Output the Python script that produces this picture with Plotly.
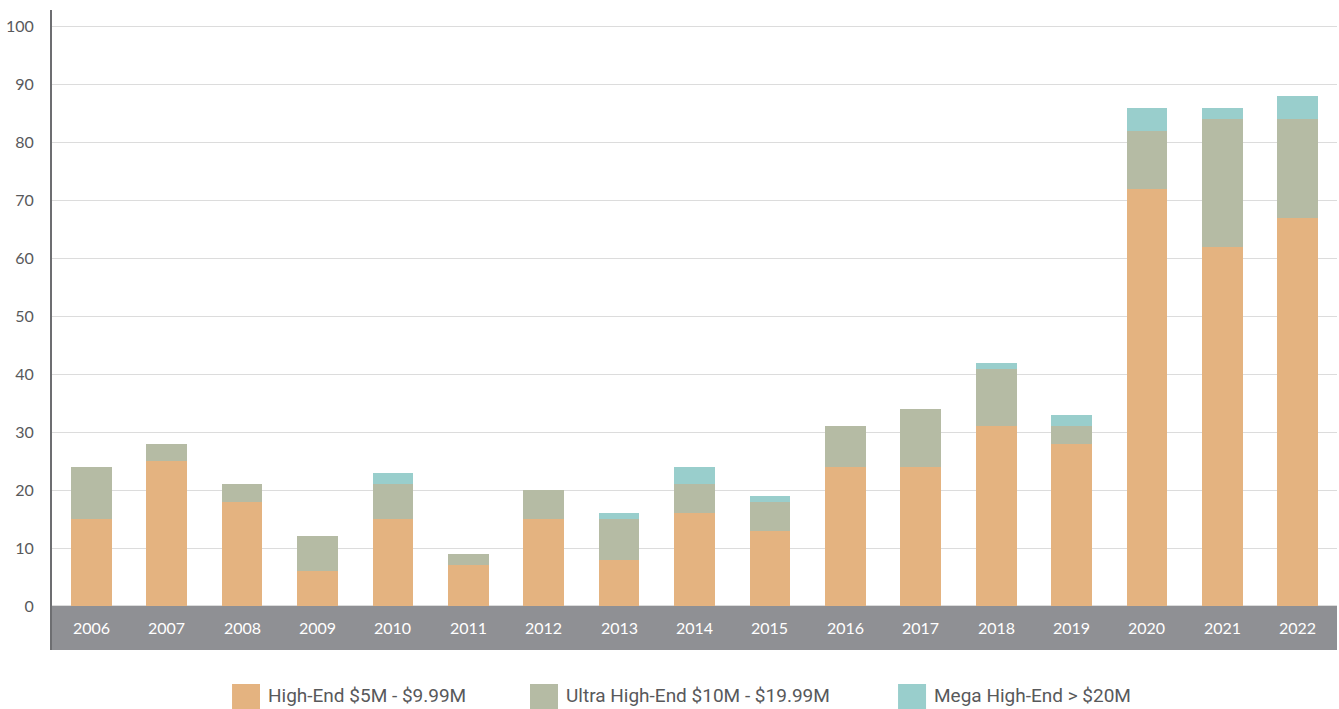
import plotly.graph_objects as go

years = ["2006", "2007", "2008", "2009", "2010", "2011", "2012", "2013", "2014",
         "2015", "2016", "2017", "2018", "2019", "2020", "2021", "2022"]
high_end = [15, 25, 18, 6, 15, 7, 15, 8, 16, 13, 24, 24, 31, 28, 72, 62, 67]
ultra_high_end = [9, 3, 3, 6, 6, 2, 5, 7, 5, 5, 7, 10, 10, 3, 10, 22, 17]
mega_high_end = [0, 0, 0, 0, 2, 0, 0, 1, 3, 1, 0, 0, 1, 2, 4, 2, 4]
series_names = ["High-End $5M - $9.99M", "Ultra High-End $10M - $19.99M", "Mega High-End > $20M"]
y_ticks = [0, 10, 20, 30, 40, 50, 60, 70, 80, 90, 100]

colors = ["#e4b380", "#b5bba4", "#99cecc"]

fig = go.Figure()
for name, vals, col in zip(series_names, [high_end, ultra_high_end, mega_high_end], colors):
    fig.add_trace(go.Bar(x=years, y=vals, name=name, marker=dict(color=col, line=dict(width=0)),
                         width=0.54, showlegend=False))

# grey band behind year labels
fig.add_shape(type="rect", xref="paper", yref="y", x0=0, x1=1, y0=-7.6, y1=0,
              fillcolor="#8f9094", line=dict(width=0), layer="below")

for i, yr in enumerate(years):
    fig.add_annotation(x=i, y=-3.7, xref="x", yref="y", text=yr, showarrow=False,
                       font=dict(family="Lato, Open Sans, sans-serif", size=16, color="white"))

# custom legend
plot_w, plot_h = 1285, 640
leg_x = [0.1401, 0.3720, 0.6584]
for i, name in enumerate(series_names):
    x0 = leg_x[i]
    fig.add_shape(type="rect", xref="paper", yref="paper",
                  x0=x0, x1=x0 + 28 / plot_w, y0=-60 / plot_h, y1=-34 / plot_h,
                  fillcolor=colors[i], line=dict(width=0))
    fig.add_annotation(xref="paper", yref="paper", x=x0 + 34 / plot_w, y=-45 / plot_h,
                       text=name, showarrow=False, xanchor="left", yanchor="middle",
                       font=dict(family="Liberation Sans Narrow, Roboto, sans-serif", size=19, color="#58595b"))

fig.update_layout(
    width=1339, height=709,
    margin=dict(l=52, r=2, t=10, b=59),
    barmode="stack",
    plot_bgcolor="white", paper_bgcolor="white",
    xaxis=dict(showticklabels=False, showgrid=False, zeroline=False, showline=False,
               range=[-0.52, 16.52], ticks=""),
    yaxis=dict(range=[-7.6, 102.9], tickvals=y_ticks, showgrid=True, gridcolor="#dcdcdc",
               gridwidth=1, zeroline=False, showline=True, linecolor="#6d6e71", linewidth=2,
               ticks="", ticklabelstandoff=13,
               tickfont=dict(family="Lato, Open Sans, sans-serif", size=16, color="#58595b")),
)

fig.write_html("out.html")
